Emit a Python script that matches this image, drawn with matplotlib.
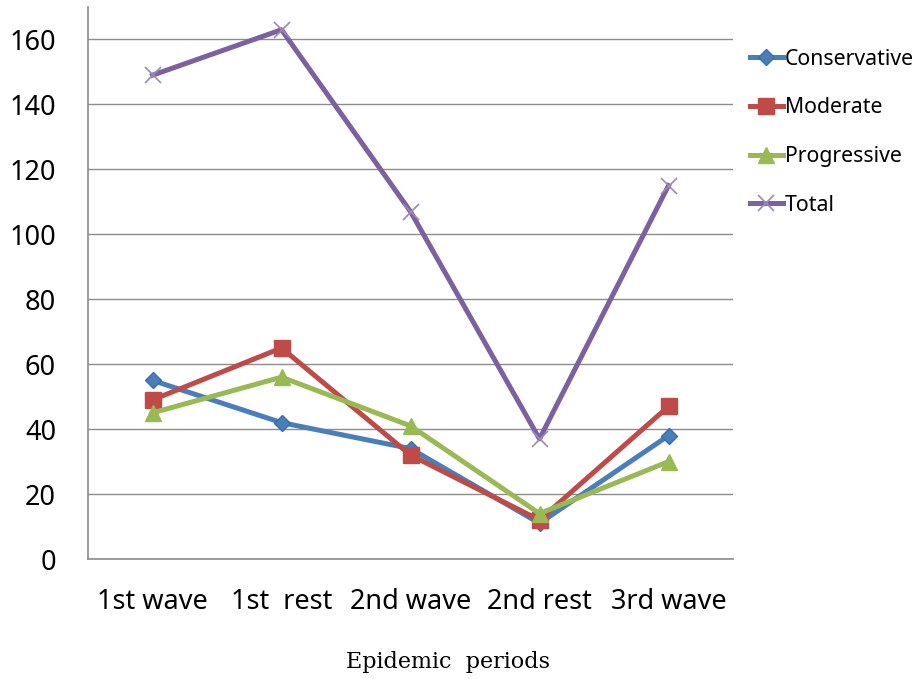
import numpy as np
import matplotlib.pyplot as plt

periods = ["1st wave", "1st  rest", "2nd wave", "2nd rest", "3rd wave"]
conservative = [55, 42, 34, 11, 38]
moderate = [49, 65, 32, 12, 47]
progressive = [45, 56, 41, 14, 30]
total = [149, 163, 107, 37, 115]
yticks = [0, 20, 40, 60, 80, 100, 120, 140, 160]

plt.rcParams['font.family'] = ['Noto Sans', 'DejaVu Sans']

fig = plt.figure(figsize=(9.14, 6.79), dpi=100)
ax = fig.add_axes([88/914, 1-559/679, (733-88)/914, (559-7)/679])

x = np.arange(len(periods))
ax.plot(x, conservative, color='#4A7EBB', lw=3.6, marker='D', ms=8,
        mec='#3A6EAB', label='Conservative', zorder=3)
ax.plot(x, moderate, color='#BE4B48', lw=3.6, marker='s', ms=11,
        mec='#BE4B48', label='Moderate', zorder=3)
ax.plot(x, progressive, color='#98B954', lw=3.6, marker='^', ms=11,
        mec='#98B954', label='Progressive', zorder=3)
ax.plot(x, total, color='#7D60A0', lw=3.6, marker='x', ms=11, mew=1.2,
        mec='#9D88BC', label='Total', zorder=3)

ax.set_xlim(-0.5, 4.5)
ax.set_ylim(0, 170)
ax.set_yticks(yticks)
ax.set_xticks(x)
ax.set_xticklabels(periods)
ax.tick_params(axis='both', length=0, labelsize=19.5)
ax.tick_params(axis='y', pad=23)
ax.tick_params(axis='x', pad=21)
ax.grid(axis='y', color='#8c8c8c', lw=1)
ax.set_axisbelow(True)
for s in ['top', 'right']:
    ax.spines[s].set_visible(False)
for s in ['left', 'bottom']:
    ax.spines[s].set_color('#8c8c8c')
    ax.spines[s].set_linewidth(1.2)

leg = ax.legend(loc='upper left', bbox_to_anchor=(1.0, 0.955), frameon=False,
                fontsize=15.3, handlelength=1.55, handletextpad=0.1,
                labelspacing=1.3, borderaxespad=0.4)

fig.text(448/914, 1-662/679, 'Epidemic  periods', family='DejaVu Serif',
         fontsize=16, ha='center', va='center')

fig.savefig('out.png', dpi=100)
